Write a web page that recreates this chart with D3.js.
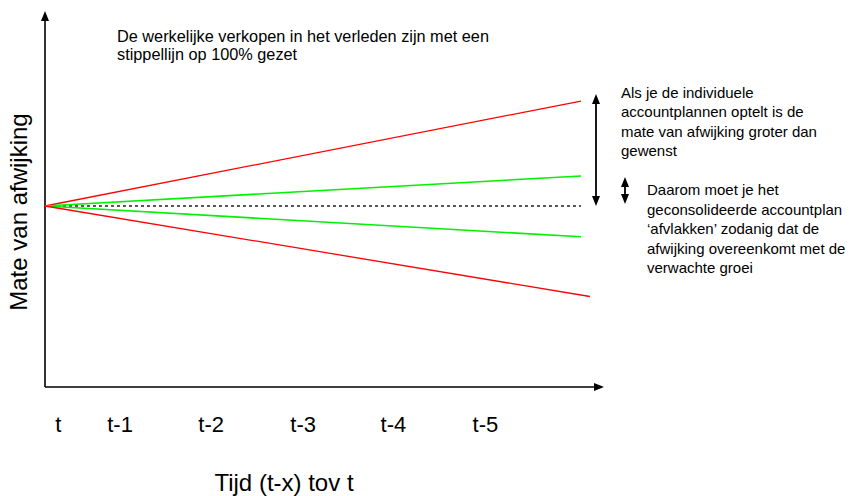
<!DOCTYPE html>
<html><head><meta charset="utf-8">
<script src="https://cdn.jsdelivr.net/npm/d3@7"></script>
<style>
html,body{margin:0;padding:0;background:#fff;}
text{font-family:"Liberation Sans",Arial,sans-serif;fill:#000;}
</style></head>
<body><svg id="c" width="857" height="496"></svg>
<script>
// ---- data ----
const tickLabels = ["t", "t-1", "t-2", "t-3", "t-4", "t-5"];
const tickAt = [0.15, 0.84, 1.86, 2.89, 3.9, 4.93];   // position on time axis
const periods = [0, 6];
const periodsLong = [0, 6.1];
const redUpper = [100, 158];
const greenUpper = [100, 116.6];
const actual = [100, 100];
const greenLower = [100, 83];
const redLower = [100, 50];
const xTitle = "Tijd (t-x) tov t";
const yTitle = "Mate van afwijking";
const noteTop = ["De werkelijke verkopen in het verleden zijn met een", "stippellijn op 100% gezet"];
const noteRight1 = ["Als je de individuele", "accountplannen optelt is de", "mate van afwijking groter dan", "gewenst"];
const noteRight2 = ["Daarom moet je het", "geconsolideerde accountplan", "\u2018afvlakken\u2019 zodanig dat de", "afwijking overeenkomt met de", "verwachte groei"];

// ---- layout ----
const svg = d3.select("#c");
const x = d3.scaleLinear().domain([0, 6]).range([45, 581]);
const y = d3.scaleLinear().domain([0, 200]).range([387, 25]);
const axisX = x(0), axisY = y(0);

// axes with arrowheads
svg.append("line").attr("x1", axisX).attr("y1", axisY).attr("x2", axisX).attr("y2", 20)
  .attr("stroke", "#000").attr("stroke-width", 1.6);
svg.append("path").attr("d", `M${axisX},11 L${axisX-4},21 L${axisX+4},21 Z`).attr("fill", "#000");
svg.append("line").attr("x1", axisX).attr("y1", axisY).attr("x2", 595).attr("y2", axisY)
  .attr("stroke", "#000").attr("stroke-width", 1.6);
svg.append("path").attr("d", `M604,${axisY} L594,${axisY-4} L594,${axisY+4} Z`).attr("fill", "#000");

const line = d3.line().x(d => x(d[0])).y(d => y(d[1]));
const series = [
  {xs: periods, v: actual, color: "#222", dash: "3,3", w: 1.4},
  {xs: periods, v: redUpper, color: "#ff0000", w: 1.3},
  {xs: periods, v: greenUpper, color: "#00f000", w: 1.6},
  {xs: periods, v: greenLower, color: "#00f000", w: 1.6},
  {xs: periodsLong, v: redLower, color: "#ff0000", w: 1.3}
];
series.forEach(s => {
  svg.append("path").datum(s.xs.map((p, i) => [p, s.v[i]]))
    .attr("d", line).attr("fill", "none").attr("stroke", s.color)
    .attr("stroke-width", s.w).attr("stroke-dasharray", s.dash || null);
});

// double arrows
function dbl(xp, y1, y2) {
  svg.append("line").attr("x1", xp).attr("x2", xp).attr("y1", y1 + 8).attr("y2", y2 - 8)
    .attr("stroke", "#000").attr("stroke-width", 1.8);
  svg.append("path").attr("d", `M${xp},${y1} L${xp-4},${y1+10} L${xp+4},${y1+10} Z`).attr("fill", "#000");
  svg.append("path").attr("d", `M${xp},${y2} L${xp-4},${y2-10} L${xp+4},${y2-10} Z`).attr("fill", "#000");
}
dbl(x(6) + 15, y(redUpper[1]) - 7, y(actual[1]));
dbl(x(6) + 44, y(greenUpper[1]) + 1, y(actual[1]) - 2);

// tick labels
svg.append("g").selectAll("text").data(tickLabels).join("text")
  .attr("x", (d, i) => x(tickAt[i])).attr("y", 432)
  .attr("text-anchor", "middle").attr("font-size", 22).text(d => d);

// axis titles
svg.append("text").attr("x", 284).attr("y", 491).attr("text-anchor", "middle")
  .attr("font-size", 24).text(xTitle);
svg.append("text").attr("transform", "translate(27,212) rotate(-90)")
  .attr("text-anchor", "middle").attr("font-size", 24).text(yTitle);

// notes
function note(lines, x0, y0, dy, fs) {
  const t = svg.append("text").attr("font-size", fs);
  lines.forEach((l, i) => t.append("tspan").attr("x", x0).attr("y", y0 + i * dy).text(l));
}
note(noteTop, 117, 42, 18, 16.3);
note(noteRight1, 621, 98, 19.3, 15);
note(noteRight2, 647, 195, 19.5, 15);
</script></body></html>
